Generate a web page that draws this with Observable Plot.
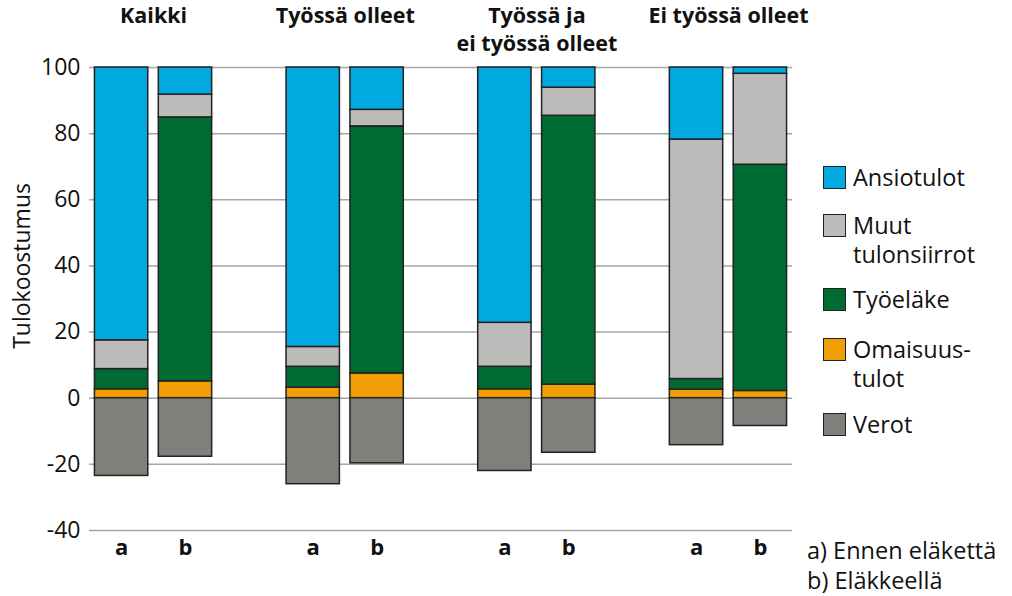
<!DOCTYPE html>
<html>
<head>
<meta charset="utf-8">
<script src="https://cdn.jsdelivr.net/npm/d3@7"></script>
<script src="https://cdn.jsdelivr.net/npm/@observablehq/plot@0.6"></script>
<style>
  html, body { margin: 0; padding: 0; background: #fff; }
  #wrap { position: relative; width: 1012px; height: 596px; font-family: "Open Sans", sans-serif; color: #111; }
  #chart svg { display: block; font-family: "Open Sans", sans-serif; }
  .legend { position: absolute; left: 823px; top: 0; }
  .item { position: absolute; left: 0; width: 190px; }
  .sw { position: absolute; left: 0; width: 23px; height: 23px; border: 1.5px solid #222; box-sizing: border-box; }
  .lbl { position: absolute; left: 30px; font-size: 23.5px; line-height: 29px; white-space: pre; }
  .note { position: absolute; left: 807px; font-size: 23.5px; line-height: 30px; white-space: pre; }
</style>
</head>
<body>
<div id="wrap">
  <div id="chart"></div>
  <div class="legend" id="legend"></div>
  <div class="note" id="note" style="top:535px"></div>
</div>
<script>
const groups = ["Kaikki", "Työssä olleet", "Työssä ja\nei työssä olleet", "Ei työssä olleet"];
const phases = ["a", "b"];
const components = ["Omaisuustulot", "Työeläke", "Muut tulonsiirrot", "Ansiotulot", "Verot"];
const legendLabels = ["Ansiotulot", "Muut\ntulonsiirrot", "Työeläke", "Omaisuus-\ntulot", "Verot"];
const legendKeys = ["Ansiotulot", "Muut tulonsiirrot", "Työeläke", "Omaisuustulot", "Verot"];
const colors = ["#f29e05", "#006a33", "#bdbbb9", "#00a9e0", "#7f807c"];
// order of values: Kaikki a, b; Työssä olleet a, b; Työssä ja ei a, b; Ei työssä a, b
const ansiotulot = [82.5, 8.2, 84.5, 12.8, 77.2, 6.1, 21.8, 1.9];
const muutTulonsiirrot = [8.7, 6.9, 6.0, 5.0, 13.3, 8.5, 72.4, 27.5];
const tyoelake = [6.1, 79.8, 6.3, 74.7, 6.8, 81.3, 3.2, 68.4];
const omaisuustulot = [2.7, 5.1, 3.2, 7.5, 2.7, 4.1, 2.6, 2.2];
const verot = [-23.5, -17.7, -26.0, -19.7, -22.0, -16.5, -14.2, -8.4];
const yTicks = [-40, -20, 0, 20, 40, 60, 80, 100];
const yLabel = "Tulokoostumus";
const notes = ["a) Ennen eläkettä", "b) Eläkkeellä"];

const seriesByComp = {
  "Omaisuustulot": omaisuustulot,
  "Työeläke": tyoelake,
  "Muut tulonsiirrot": muutTulonsiirrot,
  "Ansiotulot": ansiotulot,
  "Verot": verot
};

const key = (g, p) => g + "|" + p;
const xDomain = [];
groups.forEach((g, i) => {
  phases.forEach(p => xDomain.push(key(g, p)));
  if (i < groups.length - 1) xDomain.push("gap" + i);
});

const rows = [];
groups.forEach((g, gi) => phases.forEach((p, pi) => {
  components.forEach(c => {
    rows.push({x: key(g, p), comp: c, value: seriesByComp[c][gi * 2 + pi]});
  });
}));

const titles = groups.map(g => ({x: key(g, "a"), text: g}));

const chart = Plot.plot({
  width: 1012,
  height: 596,
  marginLeft: 89,
  marginRight: 220,
  marginTop: 67,
  marginBottom: 66,
  style: {fontFamily: "Open Sans, sans-serif", color: "#111", background: "#fff"},
  x: {domain: xDomain, paddingInner: 0.165, paddingOuter: 0.085, round: false, axis: null},
  y: {domain: [-40, 100], axis: null},
  color: {domain: components, range: colors},
  marks: [
    Plot.ruleY(yTicks, {stroke: "#a6a6a6", strokeWidth: 1.5}),
    Plot.barY(rows, Plot.stackY({
      x: "x", y: "value", fill: "comp", z: "comp", order: components,
      stroke: "#222", strokeWidth: 1.5
    })),
    Plot.axisY(yTicks, {tickSize: 0, tickPadding: 9, fontSize: 23, label: null, tickFormat: d => String(d)}),
    Plot.axisX(xDomain.filter(d => d.includes("|")), {
      tickSize: 0, tickPadding: 9, fontSize: 22, fontWeight: "bold", label: null,
      tickFormat: d => d.split("|")[1]
    }),
    Plot.text(titles, {
      x: "x", text: "text", dx: 32, frameAnchor: "top", dy: -64, lineAnchor: "top",
      fontSize: 21.5, fontWeight: "bold", lineHeight: 1.3, fill: "#111"
    }),
    Plot.text([yLabel], {
      y: 40, frameAnchor: "left", textAnchor: "middle", dx: -67, rotate: -90, text: d => d, fontSize: 23, fill: "#111"
    })
  ]
});
document.getElementById("chart").appendChild(chart);

const tops = [166, 214, 288, 338, 413];
const legend = document.getElementById("legend");
legendKeys.forEach((k, i) => {
  const item = document.createElement("div");
  item.className = "item";
  item.style.top = tops[i] + "px";
  const sw = document.createElement("div");
  sw.className = "sw";
  sw.style.background = colors[components.indexOf(k)];
  const lbl = document.createElement("div");
  lbl.className = "lbl";
  lbl.style.top = "-3px";
  lbl.textContent = legendLabels[i];
  item.appendChild(sw);
  item.appendChild(lbl);
  legend.appendChild(item);
});
document.getElementById("note").textContent = notes.join("\n");
</script>
</body>
</html>
